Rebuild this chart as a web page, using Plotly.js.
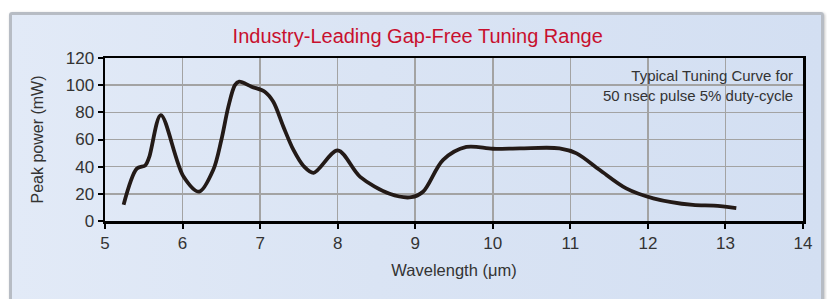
<!DOCTYPE html>
<html>
<head>
<meta charset="utf-8">
<script src="https://cdn.plot.ly/plotly-3.0.1.min.js"></script>
<style>
  html, body { margin: 0; padding: 0; background: #ffffff; }
  #wrap { position: relative; width: 827px; height: 299px; overflow: hidden; }
  #panel {
    position: absolute; left: 9px; top: 12px; width: 809px; height: 300px;
    background: linear-gradient(90deg, #e2eaf7 0%, #dae4f4 45%, #d3dff2 100%);
    border: 3px solid #b7bcc4;
    border-radius: 3px;
    box-shadow: 1px 1px 3px rgba(0,0,0,0.25);
  }
  #chart { position: absolute; left: 0; top: 0; width: 827px; height: 299px; }
</style>
</head>
<body>
<div id="wrap">
  <div id="panel"></div>
  <div id="chart"></div>
</div>
<script>
// Wavelength (µm) and peak power (mW)
const wavelength = [5.24, 5.41, 5.52, 5.57, 5.72, 6.01, 6.215, 6.395, 6.50, 6.59, 6.675, 6.73, 6.89, 7.06, 7.17, 7.30, 7.43, 7.56, 7.69, 8.0, 8.29, 8.67, 8.95, 9.10, 9.36, 9.66, 10.0, 10.35, 10.86, 11.08, 11.38, 11.72, 12.07, 12.58, 12.85, 13.14];
const peakPower  = [12, 38.5, 41, 47, 78, 33, 21.6, 37.5, 59.6, 84, 100, 102.6, 98.9, 95.2, 87.8, 69.4, 52.3, 40.5, 35.5, 52, 32.5, 20, 17.5, 21.5, 45, 54.5, 53.2, 53.5, 53.5, 49.8, 37.5, 24, 16.7, 11.8, 11.3, 9.5];
const xTicks = [5, 6, 7, 8, 9, 10, 11, 12, 13, 14];
const yTicks = [0, 20, 40, 60, 80, 100, 120];
const titleText = "Industry-Leading Gap-Free Tuning Range";
const noteLines = ["Typical Tuning Curve for", "50 nsec pulse 5% duty-cycle"];

const tickFont = { family: "Liberation Sans, Arial, sans-serif", size: 17, color: "#333333" };

const trace = {
  x: wavelength, y: peakPower, type: "scatter", mode: "lines",
  line: { color: "#231a17", width: 3.8, shape: "spline", smoothing: 0.9 },
  hoverinfo: "skip"
};

const layout = {
  width: 827, height: 299,
  paper_bgcolor: "rgba(0,0,0,0)", plot_bgcolor: "rgba(0,0,0,0)",
  margin: { l: 105, r: 24, t: 58, b: 78, pad: 0 },
  showlegend: false,
  title: {
    text: titleText, x: 0.448, xref: "paper", xanchor: "center",
    y: 0.878, yref: "container", yanchor: "middle",
    font: { family: "Liberation Sans, Arial, sans-serif", size: 20, color: "#c8102e" }
  },
  xaxis: {
    range: [5, 14], tickvals: xTicks, ticktext: xTicks.map(String),
    showline: true, linecolor: "#000000", linewidth: 2.5, mirror: true,
    ticks: "outside", ticklen: 5, tickwidth: 2, tickcolor: "#000000",
    showgrid: true, gridcolor: "#a3a3a3", gridwidth: 1.5,
    zeroline: false, tickfont: tickFont,
    title: { text: "Wavelength (μm)", standoff: 13,
      font: { family: "Liberation Sans, Arial, sans-serif", size: 16.5, color: "#333333" } }
  },
  yaxis: {
    range: [0, 120], tickvals: yTicks, ticktext: yTicks.map(String),
    showline: true, linecolor: "#000000", linewidth: 2.5, mirror: true,
    ticks: "outside", ticklen: 5, tickwidth: 2, tickcolor: "#000000",
    showgrid: true, gridcolor: "#a3a3a3", gridwidth: 1.5,
    zeroline: false, tickfont: tickFont,
    title: { text: "Peak power (mW)", standoff: 18,
      font: { family: "Liberation Sans, Arial, sans-serif", size: 16, color: "#333333" } }
  },
  annotations: [{
    text: noteLines.join("<br>"), xref: "paper", yref: "paper",
    x: 0.9885, y: 0.955, xanchor: "right", yanchor: "top", align: "right",
    showarrow: false,
    font: { family: "Liberation Sans, Arial, sans-serif", size: 15, color: "#333333" }
  }]
};

Plotly.newPlot("chart", [trace], layout, { displayModeBar: false, staticPlot: true });
</script>
</body>
</html>
